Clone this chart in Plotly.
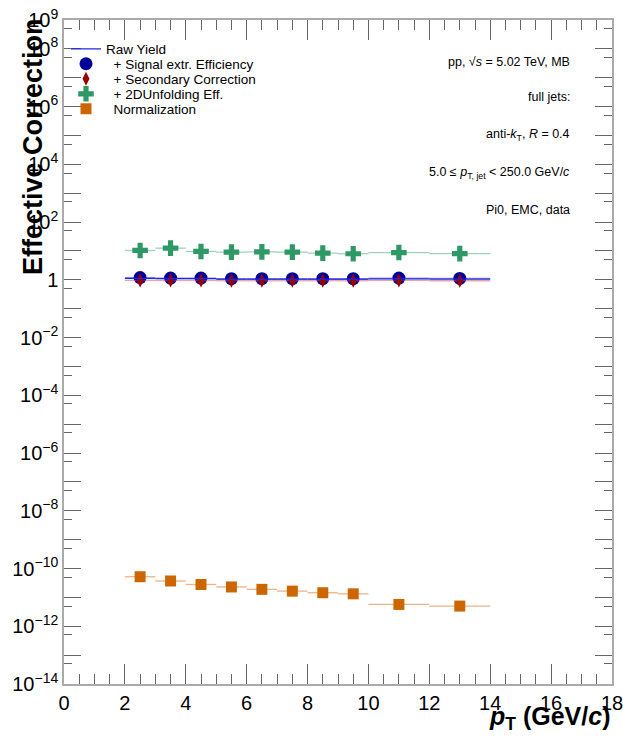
import plotly.graph_objects as go

# ---------------- data ----------------
bin_edges = [2, 3, 4, 5, 6, 7, 8, 9, 10, 12, 14]
raw_yield = [1.12, 1.10, 1.10, 1.05, 1.05, 1.05, 1.05, 1.05, 1.08, 1.05]
signal_eff = [1.20, 1.15, 1.15, 1.10, 1.10, 1.10, 1.10, 1.10, 1.15, 1.12]
secondary_corr = [0.95, 0.95, 0.95, 0.93, 0.93, 0.93, 0.93, 0.93, 0.95, 0.93]
unfolding_eff = [10.4, 12.5, 9.6, 9.1, 9.3, 9.1, 8.4, 8.0, 8.8, 8.1]
normalization = [5.2e-11, 3.7e-11, 2.8e-11, 2.3e-11, 1.9e-11, 1.65e-11,
                 1.45e-11, 1.33e-11, 5.7e-12, 5.0e-12]

series_names = ["Raw Yield", "\u00a0 + Signal extr. Efficiency",
                "\u00a0 + Secondary Correction", "\u00a0 + 2DUnfolding Eff.",
                "\u00a0 Normalization"]

info_lines = ["pp, \u221a<i>s</i> = 5.02 TeV, MB",
              "full jets:",
              "anti-<i>k</i><sub>T</sub>, <i>R</i> = 0.4",
              "5.0 \u2264 <i>p</i><sub>T, jet</sub> < 250.0 GeV/<i>c</i>",
              "Pi0, EMC, data"]

x_tick_values = list(range(0, 19, 2))
y_label_exponents = [-14, -12, -10, -8, -6, -4, -2, 0, 2, 4, 6, 8, 9]
y_unlabeled_exponents = [-13, -11, -9, -7, -5, -3, -1, 1, 3, 5, 7]

centers = [(a + b) / 2 for a, b in zip(bin_edges[:-1], bin_edges[1:])]
half_w = [(b - a) / 2 for a, b in zip(bin_edges[:-1], bin_edges[1:])]

FONT = "Liberation Sans, Arial, Helvetica, sans-serif"

W, H = 623, 740
# plot frame in page pixels
PL, PR, PT, PB = 64, 612, 20, 684
L, T, R, B = PL, PT, W - PR, H - PB
PH = H - T - B
PW = W - L - R


def py(ypage):
    return (PB - ypage) / PH


def px(xpage):
    return (xpage - PL) / PW


fig = go.Figure()

# Raw yield as histogram-like horizontal segments
seg_x, seg_y = [], []
for a, b, v in zip(bin_edges[:-1], bin_edges[1:], raw_yield):
    seg_x += [a, b, None]
    seg_y += [v, v, None]
fig.add_trace(go.Scatter(x=seg_x, y=seg_y, mode="lines", name=series_names[0],
                         line=dict(color="#2424e0", width=1.3),
                         legend="legend", yaxis="y2"))


def marker_trace(vals, name, sym, size, color, ecolor, leg):
    return go.Scatter(
        x=centers, y=vals, mode="markers", name=name,
        marker=dict(symbol=sym, size=size, color=color, line=dict(width=0)),
        error_x=dict(type="data", array=half_w, symmetric=True, width=0,
                     color=ecolor, thickness=1.3),
        legend=leg)


fig.add_trace(marker_trace(signal_eff, series_names[1], "circle", 13,
                           "#000099", "rgba(80,80,220,0.6)", "legend2"))
fig.add_trace(marker_trace(secondary_corr, series_names[2], "diamond-tall", 10,
                           "#990000", "rgba(200,80,80,0.5)", "legend3"))
fig.add_trace(marker_trace(unfolding_eff, series_names[3], "cross", 13,
                           "#2e9966", "rgba(46,153,102,0.45)", "legend4"))
fig.add_trace(marker_trace(normalization, series_names[4], "square", 11,
                           "#cc6600", "rgba(220,130,50,0.6)", "legend5"))


def exp_label(k):
    if k == 0:
        return "1"
    return "10<sup>%s</sup>" % (str(k).replace("-", "\u2212"))


tick_font = dict(family=FONT, size=20, color="black")
axis_common = dict(showline=True, linecolor="#aaaaaa", linewidth=1.5,
                   mirror="ticks", ticks="inside", tickcolor="#666666",
                   tickwidth=1, showgrid=False, zeroline=False)

fig.update_layout(
    xaxis=dict(range=[0, 18], tickmode="array",
               tickvals=x_tick_values,
               ticktext=[str(v) for v in x_tick_values],
               ticklen=20, tickfont=tick_font, ticklabeloverflow="allow",
               minor=dict(dtick=0.5, ticks="inside", ticklen=10,
                          tickcolor="#666666", showgrid=False),
               **axis_common),
    yaxis=dict(type="log", range=[-14, 9], tickmode="array",
               tickvals=[10.0 ** k for k in y_label_exponents],
               ticktext=[exp_label(k) for k in y_label_exponents],
               ticklen=17, tickfont=tick_font, ticklabeloverflow="allow",
               minor=dict(tickvals=[5 * 10.0 ** k for k in range(-14, 9)],
                          ticks="inside", ticklen=8,
                          tickcolor="#666666", showgrid=False),
               **axis_common),
    yaxis2=dict(type="log", range=[-14, 9], overlaying="y", side="left",
                tickmode="array",
                tickvals=[10.0 ** k for k in y_unlabeled_exponents],
                showticklabels=False, ticklen=17, **axis_common),
)

annotations = []
# axis titles
annotations.append(dict(text="<b>Effective Correction</b>", textangle=-90,
                        xref="paper", yref="paper", x=px(33), y=py(147),
                        xanchor="center", yanchor="middle", showarrow=False,
                        font=dict(family=FONT, size=27, color="black")))
annotations.append(dict(text="<b><i>p</i><sub>T</sub> (GeV/<i>c</i>)</b>",
                        xref="paper", yref="paper", x=1.0, y=py(718),
                        xanchor="right", yanchor="middle", showarrow=False,
                        font=dict(family=FONT, size=25, color="black")))
# info text
info_y = [62, 97, 135, 173, 210]
for t, yy in zip(info_lines, info_y):
    annotations.append(dict(text=t, xref="paper", yref="paper",
                            x=px(572), y=py(yy), xanchor="right",
                            yanchor="middle", showarrow=False,
                            font=dict(family=FONT, size=12.5, color="black")))

leg_y = [49, 64, 79, 94, 109]
leg_common = dict(bgcolor="rgba(0,0,0,0)", borderwidth=0,
                  font=dict(family=FONT, size=13.5, color="black"),
                  xanchor="left", yanchor="middle", x=px(66))
layout_legends = {}
for i, yy in enumerate(leg_y):
    key = "legend" if i == 0 else "legend%d" % (i + 1)
    layout_legends[key] = dict(y=py(yy), **leg_common)

fig.update_layout(width=W, height=H,
                  margin=dict(l=L, r=R, t=T, b=B, autoexpand=False),
                  paper_bgcolor="white", plot_bgcolor="white",
                  annotations=annotations, showlegend=True,
                  **layout_legends)

fig.write_html("out.html",
               config={"displayModeBar": False},
               post_script="document.body.style.margin='0px';"
                           "document.body.style.overflow='hidden';")
